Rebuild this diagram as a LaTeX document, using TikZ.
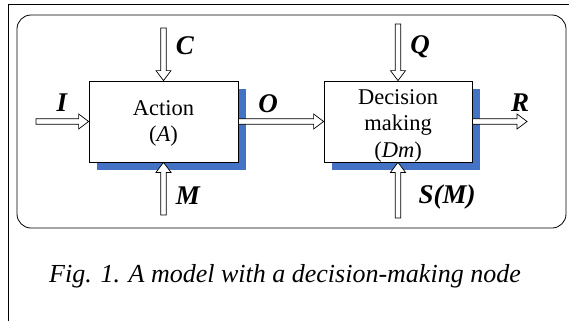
\documentclass[tikz,border=0pt]{standalone}
\usepackage{fontspec}
\setmainfont{Liberation Serif}
\usetikzlibrary{calc, shadows}
\definecolor{shadeblue}{RGB}{68, 114, 196}

\begin{document}
\begin{tikzpicture}[x=1pt, y=-1pt,
  unit/.style={draw, fill=white, line width=0.8pt, minimum width=149pt, minimum height=81pt, inner sep=0pt, drop shadow={shadow xshift=8pt, shadow yshift=-8pt, fill=shadeblue, opacity=1}},
  unittext/.style={inner sep=0pt, align=center, font=\fontsize{22.5}{26.5}\selectfont},
  flow/.style={draw, fill=white, line width=0.7pt, to path={
    let \p1=(\tikztostart), \p2=(\tikztotarget),
        \n1={atan2(\y2-\y1,\x2-\x1)}, \n2={veclen(\x2-\x1,\y2-\y1)} in
    {[shift={(\p1)}, rotate=\n1]
      (0pt,2.7pt) -- ({\n2*1pt-10pt},2.7pt) -- ({\n2*1pt-10pt},7.5pt) -- ({\n2*1pt},0pt)
      -- ({\n2*1pt-10pt},-7.5pt) -- ({\n2*1pt-10pt},-2.7pt) -- (0pt,-2.7pt) -- cycle}}},
  lbl/.style={font=\fontsize{27}{30}\selectfont\bfseries\itshape}
]
  \useasboundingbox (0,0) rectangle (569,321);
  \draw[line width=1pt] (8,321) -- (8,5) -- (569,5);
  \draw[line width=0.8pt, rounded corners=14pt] (17,15) rectangle (566,228);

  \node[unit] (act) at (163.5,121.5) {};
  \node[unit, minimum width=148pt] (dm) at (398,121.5) {};
  \node[unittext] (acttext) at ([yshift=-2pt]act.center) {Action\\(\textit{A})};
  \node[unittext] (dmtext) at ([yshift=-4pt]dm.center) {Decision\\making\\(\textit{Dm})};

  \coordinate (in) at (36,121.5);
  \coordinate (cin) at (163.5,28);
  \coordinate (min) at (163.5,215);
  \coordinate (qin) at (398,24);
  \coordinate (sin) at (398,218);
  \coordinate (out) at (527,121.5);

  \draw[flow] (in) to (act.west);
  \draw[flow] (cin) to (act.north);
  \draw[flow] (min) to (act.south);
  \draw[flow] (act.east) to (dm.west);
  \draw[flow] (qin) to (dm.north);
  \draw[flow] (sin) to (dm.south);
  \draw[flow] (dm.east) to (out);

  \node[lbl] (li) at (62,103) {I};
  \node[lbl] (lc) at (185,46) {C};
  \node[lbl] (lm) at (188,196) {M};
  \node[lbl] (lo) at (268,104) {O};
  \node[lbl] (lq) at (420,47) {Q};
  \node[lbl] (lr) at (520,103) {R};
  \node[lbl] (ls) at (447,197) {S(M)};

  \node[font=\fontsize{26}{30}\selectfont\itshape] (cap) at (285,276) {Fig. 1. A model with a decision-making node};
\end{tikzpicture}
\end{document}
